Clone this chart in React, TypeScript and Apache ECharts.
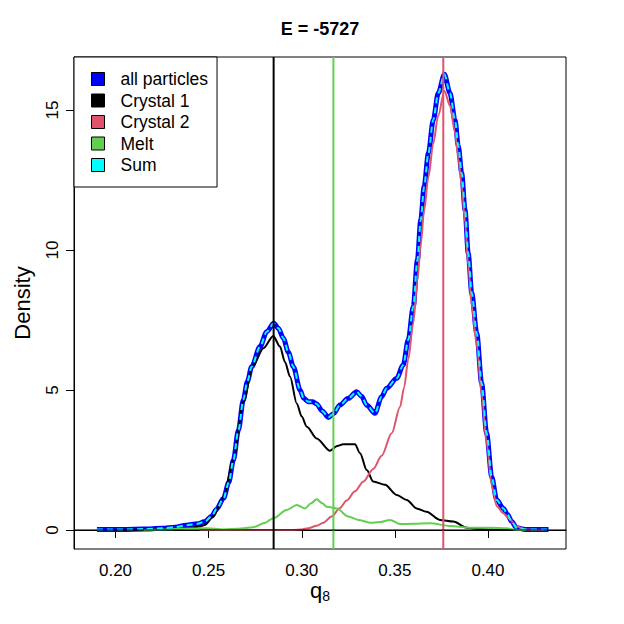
import React, { useEffect, useRef } from "react";
import * as echarts from "echarts";

// ---------- data ----------
const TITLE = "E = -5727";
const X_LABEL_MAIN = "q";
const X_LABEL_SUB = "8";
const Y_LABEL = "Density";
const legendNames = ["all particles", "Crystal 1", "Crystal 2", "Melt", "Sum"];

const xTickValues = [0.2, 0.25, 0.3, 0.35, 0.4];
const yTickValues = [0, 5, 10, 15];
const xRange = [0.1777, 0.4419];
const yRange = [-0.68, 16.89];

const allQ = [
  0.19, 0.205, 0.215, 0.225, 0.232, 0.238, 0.244, 0.248, 0.2515, 0.2543, 0.258, 0.2608,
  0.2633, 0.266, 0.2686, 0.2708, 0.2731, 0.2776, 0.2812, 0.285, 0.2875, 0.2901, 0.2928,
  0.2955, 0.2991, 0.301, 0.3035, 0.306, 0.308, 0.311, 0.3143, 0.317, 0.3205, 0.325, 0.3295,
  0.332, 0.335, 0.3393, 0.3429, 0.3456, 0.351, 0.3545, 0.3572, 0.3599, 0.3621, 0.3639,
  0.3657, 0.368, 0.3706, 0.3733, 0.3766, 0.3796, 0.3823, 0.3841, 0.3859, 0.3877, 0.3894,
  0.3913, 0.394, 0.3966, 0.3993, 0.402, 0.4047, 0.4083, 0.4105, 0.4127, 0.4154, 0.42, 0.4325,
];
const allDensity = [
  0.02, 0.02, 0.03, 0.06, 0.1, 0.17, 0.22, 0.3, 0.48, 0.75, 1.13, 1.7,
  2.5, 3.57, 4.64, 5.3, 5.83, 6.55, 7.08, 7.38, 7.2, 6.85, 6.35,
  5.83, 5.0, 4.7, 4.58, 4.58, 4.5, 4.25, 4.02, 4.15, 4.46, 4.7, 4.94,
  4.78, 4.45, 4.17, 4.76, 5.06, 5.42, 5.89, 6.79, 7.98, 9.64, 11.07,
  12.26, 13.45, 14.64, 15.6, 16.27, 15.6, 14.64, 13.7, 12.74, 11.43, 9.88,
  8.45, 7.02, 5.24, 3.45, 1.9, 1.07, 0.77, 0.55, 0.3, 0.08, 0.02, 0.02,
];

const sumQ = allQ;
const sumDensity = allDensity;

const crystal1Q = [
  0.2, 0.215, 0.23, 0.24, 0.245, 0.248, 0.2525, 0.258, 0.2633, 0.2686, 0.274, 0.2794,
  0.2847, 0.2883, 0.291, 0.2937, 0.2973, 0.3, 0.3027, 0.308, 0.3152, 0.319, 0.3223,
  0.3286, 0.3313, 0.3349, 0.3384, 0.3447, 0.351, 0.3564, 0.3617, 0.367, 0.3742, 0.3814,
  0.3886, 0.3957, 0.405, 0.415,
];
const crystal1Density = [
  0.0, 0.01, 0.04, 0.08, 0.12, 0.18, 0.48, 1.19, 2.5, 4.58, 5.89, 6.49,
  6.93, 6.55, 6.0, 5.48, 4.52, 4.05, 3.69, 3.27, 2.83, 3.0, 3.06,
  3.06, 2.74, 2.14, 1.73, 1.61, 1.25, 1.07, 0.77, 0.65, 0.36, 0.3,
  0.08, 0.03, 0.0, 0.0,
];

const crystal2Q = [
  0.245, 0.295, 0.3, 0.3035, 0.308, 0.3116, 0.316, 0.3205, 0.3241, 0.3286, 0.333, 0.3384,
  0.3429, 0.3483, 0.3528, 0.355, 0.3572, 0.3599, 0.3621, 0.3639, 0.3657, 0.368, 0.3706,
  0.3733, 0.3766, 0.3796, 0.3823, 0.3841, 0.3859, 0.3877, 0.3894, 0.3913, 0.394, 0.3966,
  0.3993, 0.402, 0.4047, 0.4083, 0.411, 0.4154, 0.42, 0.43,
];
const crystal2Density = [
  0.0, 0.0, 0.02, 0.06, 0.15, 0.26, 0.48, 0.78, 1.05, 1.38, 1.72, 2.18,
  2.65, 3.45, 4.4, 5.1, 6.1, 7.4, 8.9, 10.2, 11.4, 12.6, 13.8,
  14.8, 15.68, 15.15, 14.2, 13.25, 12.3, 11.0, 9.45, 8.0, 6.6, 4.85,
  3.1, 1.6, 0.85, 0.6, 0.42, 0.12, 0.02, 0.0,
];

const meltQ = [
  0.215, 0.225, 0.24, 0.249, 0.258, 0.266, 0.274, 0.28, 0.2847, 0.2919, 0.2973, 0.3017,
  0.305, 0.308, 0.311, 0.3134, 0.3188, 0.325, 0.3304, 0.3366, 0.342, 0.3474, 0.3528,
  0.36, 0.3689, 0.3796, 0.3903, 0.401, 0.41, 0.4154, 0.42,
];
const meltDensity = [
  0.0, 0.02, 0.05, 0.06, 0.02, 0.04, 0.1, 0.25, 0.42, 0.71, 0.89, 0.77,
  0.95, 1.1, 0.95, 0.83, 0.77, 0.48, 0.36, 0.26, 0.28, 0.36, 0.21,
  0.22, 0.24, 0.14, 0.08, 0.08, 0.06, 0.0, 0.0,
];

// vertical reference lines (Crystal 1 peak, Melt, Crystal 2 peak) and the zero line
const refLineQ = [0.2849, 0.317, 0.376];
const zeroLineDensity = 0;

// ---------- styles ----------
const FONT = "'Liberation Sans', Arial, sans-serif";
const COLORS = {
  all: "#0000FF",
  c1: "#000000",
  c2: "#DF536B",
  melt: "#61D04F",
  sum: "#00FFFF",
};
const refLineColors = [COLORS.c1, COLORS.melt, COLORS.c2];

const zip = (xs: number[], ys: number[]) => xs.map((x, i) => [x, ys[i]]);

export default function App() {
  const ref = useRef<HTMLDivElement | null>(null);

  useEffect(() => {
    if (!ref.current) return;
    const chart = echarts.init(ref.current, undefined, { renderer: "svg" });

    const lineBase = {
      type: "line" as const,
      showSymbol: false,
      symbol: "none",
      smooth: 0.3,
      smoothMonotone: "x" as const,
      silent: true,
    };

    const refSeries = refLineQ.map((q, i) => ({
      type: "line" as const,
      name: `ref-${i}`,
      showSymbol: false,
      symbol: "none",
      silent: true,
      clip: false,
      data: [
        [q, yRange[0]],
        [q, yRange[1]],
      ],
      lineStyle: { color: refLineColors[i], width: 2 },
      z: 5,
    }));

    const zeroSeries = {
      type: "line" as const,
      name: "zero",
      showSymbol: false,
      symbol: "none",
      silent: true,
      clip: false,
      data: [
        [xRange[0], zeroLineDensity],
        [xRange[1], zeroLineDensity],
      ],
      lineStyle: { color: "#000", width: 1 },
      z: 6,
    };

    const option: any = {
      animation: false,
      backgroundColor: "#ffffff",
      grid: {
        left: 74,
        top: 57,
        width: 492,
        height: 492,
        show: true,
        borderColor: "#000",
        borderWidth: 1,
        backgroundColor: "transparent",
      },
      xAxis: {
        type: "value",
        min: xRange[0],
        max: xRange[1],
        axisLine: { show: true, lineStyle: { color: "#000", width: 1 } },
        axisTick: {
          show: true,
          inside: false,
          length: 8,
          customValues: xTickValues,
          lineStyle: { color: "#000", width: 1 },
        },
        axisLabel: {
          customValues: xTickValues,
          formatter: (v: number) => v.toFixed(2),
          fontSize: 17,
          fontFamily: FONT,
          color: "#000",
          margin: 13,
        },
        splitLine: { show: false },
      },
      yAxis: {
        type: "value",
        min: yRange[0],
        max: yRange[1],
        axisLine: { show: true, lineStyle: { color: "#000", width: 1 } },
        axisTick: {
          show: true,
          inside: false,
          length: 8,
          customValues: yTickValues,
          lineStyle: { color: "#000", width: 1 },
        },
        axisLabel: {
          customValues: yTickValues,
          formatter: (v: number) => String(v),
          rotate: 90,
          fontSize: 17,
          fontFamily: FONT,
          color: "#000",
          margin: 13,
        },
        splitLine: { show: false },
      },
      legend: {
        data: legendNames,
        orient: "vertical",
        left: 74,
        top: 57,
        padding: [12, 9, 12, 17],
        itemGap: 1.5,
        itemWidth: 13,
        itemHeight: 13,
        icon: "rect",
        selectedMode: false,
        backgroundColor: "#ffffff",
        borderColor: "#000",
        borderWidth: 1,
        borderRadius: 0,
        itemStyle: { borderColor: "#000", borderWidth: 1 },
        textStyle: {
          fontSize: 17.5,
          fontFamily: FONT,
          color: "#000",
          lineHeight: 20,
          padding: [0, 0, 0, 11],
        },
        z: 10,
      },
      graphic: [
        {
          type: "text",
          x: 320,
          y: 29,
          style: {
            text: TITLE,
            font: `bold 18px ${FONT}`,
            fill: "#000",
            textAlign: "center",
            textVerticalAlign: "middle",
          },
        },
        {
          type: "text",
          x: 320,
          y: 590,
          style: {
            text: `{m|${X_LABEL_MAIN}}{s|${X_LABEL_SUB}}`,
            textAlign: "center",
            textVerticalAlign: "middle",
            rich: {
              m: { fontSize: 22, fontFamily: FONT, fill: "#000", color: "#000", lineHeight: 26 },
              s: {
                fontSize: 14,
                fontFamily: FONT,
                fill: "#000",
                color: "#000",
                lineHeight: 8,
                verticalAlign: "bottom",
              },
            },
          },
        },
        {
          type: "text",
          x: 22,
          y: 303,
          rotation: Math.PI / 2,
          style: {
            text: Y_LABEL,
            font: `22px ${FONT}`,
            fill: "#000",
            textAlign: "center",
            textVerticalAlign: "middle",
          },
        },
      ],
      series: [
        {
          ...lineBase,
          name: legendNames[0],
          data: zip(allQ, allDensity),
          color: COLORS.all,
          lineStyle: { color: COLORS.all, width: 5 },
          z: 2,
        },
        {
          ...lineBase,
          name: legendNames[1],
          data: zip(crystal1Q, crystal1Density),
          color: COLORS.c1,
          lineStyle: { color: COLORS.c1, width: 2 },
          z: 3,
        },
        {
          ...lineBase,
          name: legendNames[2],
          data: zip(crystal2Q, crystal2Density),
          color: COLORS.c2,
          lineStyle: { color: COLORS.c2, width: 2 },
          z: 3,
        },
        {
          ...lineBase,
          name: legendNames[3],
          data: zip(meltQ, meltDensity),
          color: COLORS.melt,
          lineStyle: { color: COLORS.melt, width: 2 },
          z: 3,
        },
        {
          ...lineBase,
          name: legendNames[4],
          data: zip(sumQ, sumDensity),
          color: COLORS.sum,
          lineStyle: { color: COLORS.sum, width: 2, type: [6, 4] },
          z: 4,
        },
        ...refSeries,
        zeroSeries,
      ],
    };

    chart.setOption(option);
    return () => chart.dispose();
  }, []);

  return (
    <div
      ref={ref}
      style={{ position: "absolute", left: 0, top: 0, width: 624, height: 624, background: "#fff" }}
    />
  );
}
